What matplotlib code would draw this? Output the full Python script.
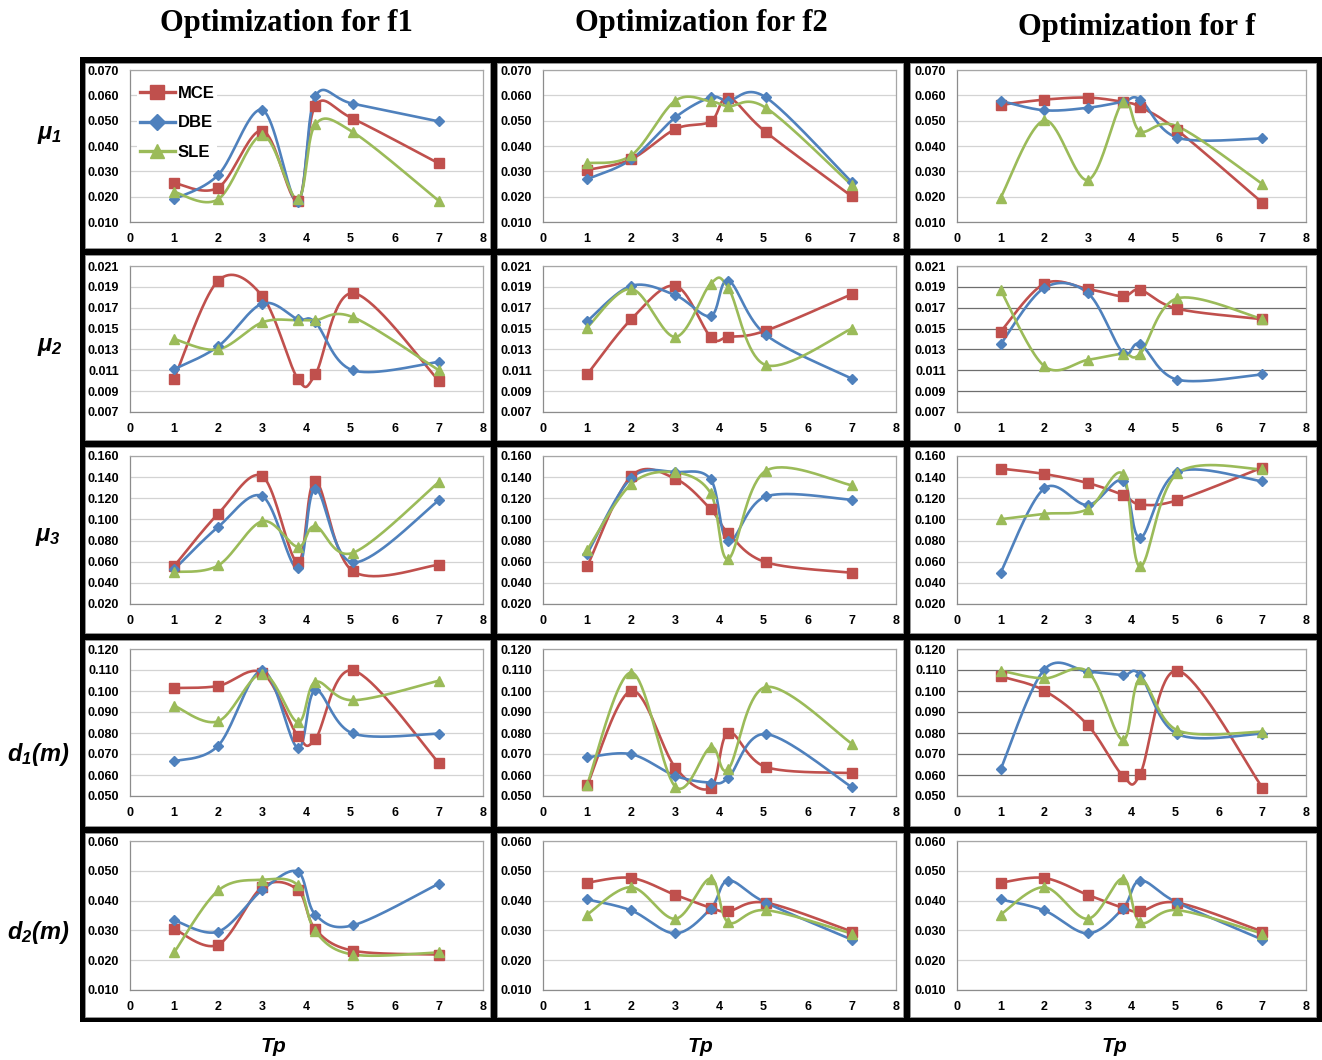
import numpy as np
import matplotlib
matplotlib.use("Agg")
import matplotlib.pyplot as plt
from matplotlib.patches import Rectangle
from matplotlib.lines import Line2D

plt.rcParams['font.family'] = ['Liberation Sans', 'DejaVu Sans']
plt.rcParams['mathtext.fontset'] = 'custom'
plt.rcParams['mathtext.rm'] = 'Liberation Sans:bold:italic'
plt.rcParams['mathtext.it'] = 'Liberation Sans:bold:italic'
plt.rcParams['mathtext.bf'] = 'Liberation Sans:bold:italic'

# ---------------- data ----------------
tp = [1, 2, 3, 3.8, 4.2, 5.05, 7]
series_names = ["MCE", "DBE", "SLE"]
col_titles = ["Optimization for f1", "Optimization for f2", "Optimization for f"]
row_labels = [r"$\mu_1$", r"$\mu_2$", r"$\mu_3$", r"$d_1(m)$", r"$d_2(m)$"]

# mu1
mu1_f1_mce = [0.0254, 0.0236, 0.0461, 0.0183, 0.0559, 0.0508, 0.0331]
mu1_f1_dbe = [0.0190, 0.0286, 0.0542, 0.0179, 0.0596, 0.0567, 0.0497]
mu1_f1_sle = [0.0219, 0.0190, 0.0442, 0.0190, 0.0485, 0.0455, 0.0183]
mu1_f2_mce = [0.0305, 0.0348, 0.0467, 0.0497, 0.0591, 0.0455, 0.0201]
mu1_f2_dbe = [0.0269, 0.0347, 0.0513, 0.0592, 0.0579, 0.0592, 0.0257]
mu1_f2_sle = [0.0332, 0.0363, 0.0579, 0.0576, 0.0557, 0.0551, 0.0245]
mu1_f_mce = [0.0562, 0.0583, 0.0591, 0.0574, 0.0554, 0.0462, 0.0176]
mu1_f_dbe = [0.0578, 0.0541, 0.0551, 0.0574, 0.0583, 0.0433, 0.0430]
mu1_f_sle = [0.0196, 0.0501, 0.0266, 0.0574, 0.0458, 0.0478, 0.0250]
# mu2
mu2_f1_mce = [0.0102, 0.0196, 0.0181, 0.0102, 0.0106, 0.0184, 0.0100]
mu2_f1_dbe = [0.0111, 0.0133, 0.0174, 0.0159, 0.0156, 0.0110, 0.0118]
mu2_f1_sle = [0.0140, 0.0130, 0.0156, 0.0158, 0.0158, 0.0161, 0.0110]
mu2_f2_mce = [0.0106, 0.0159, 0.0191, 0.0142, 0.0142, 0.0148, 0.0183]
mu2_f2_dbe = [0.0157, 0.0191, 0.0182, 0.0162, 0.0196, 0.0144, 0.0102]
mu2_f2_sle = [0.0151, 0.0188, 0.0142, 0.0193, 0.0189, 0.0115, 0.0150]
mu2_f_mce = [0.0147, 0.0193, 0.0188, 0.0181, 0.0187, 0.0169, 0.0159]
mu2_f_dbe = [0.0135, 0.0189, 0.0184, 0.0127, 0.0135, 0.0101, 0.0106]
mu2_f_sle = [0.0187, 0.0114, 0.0120, 0.0126, 0.0126, 0.0179, 0.0159]
# mu3
mu3_f1_mce = [0.0558, 0.1055, 0.1408, 0.0593, 0.1364, 0.0511, 0.0571]
mu3_f1_dbe = [0.0527, 0.0930, 0.1219, 0.0537, 0.1288, 0.0593, 0.1181]
mu3_f1_sle = [0.0502, 0.0565, 0.0983, 0.0741, 0.0936, 0.0684, 0.1354]
mu3_f2_mce = [0.0555, 0.1410, 0.1385, 0.1096, 0.0869, 0.0595, 0.0495]
mu3_f2_dbe = [0.0673, 0.1391, 0.1447, 0.1379, 0.0794, 0.1217, 0.1186]
mu3_f2_sle = [0.0710, 0.1335, 0.1444, 0.1248, 0.0626, 0.1460, 0.1323]
mu3_f_mce = [0.1481, 0.1430, 0.1344, 0.1232, 0.1142, 0.1181, 0.1491]
mu3_f_dbe = [0.0497, 0.1293, 0.1136, 0.1366, 0.0826, 0.1446, 0.1360]
mu3_f_sle = [0.1002, 0.1053, 0.1098, 0.1430, 0.0555, 0.1436, 0.1475]
# d1
d1_f1_mce = [0.1014, 0.1024, 0.1086, 0.0787, 0.0771, 0.1098, 0.0657]
d1_f1_dbe = [0.0665, 0.0740, 0.1098, 0.0729, 0.1003, 0.0798, 0.0797]
d1_f1_sle = [0.0930, 0.0856, 0.1083, 0.0852, 0.1043, 0.0956, 0.1049]
d1_f2_mce = [0.0551, 0.1001, 0.0635, 0.0539, 0.0802, 0.0638, 0.0609]
d1_f2_dbe = [0.0684, 0.0699, 0.0596, 0.0564, 0.0587, 0.0795, 0.0542]
d1_f2_sle = [0.0554, 0.1088, 0.0544, 0.0732, 0.0628, 0.1019, 0.0749]
d1_f_mce = [0.1070, 0.1002, 0.0837, 0.0597, 0.0605, 0.1097, 0.0540]
d1_f_dbe = [0.0627, 0.1102, 0.1092, 0.1076, 0.1076, 0.0795, 0.0797]
d1_f_sle = [0.1097, 0.1060, 0.1092, 0.0767, 0.1056, 0.0813, 0.0806]
# d2
d2_f1_mce = [0.0305, 0.0252, 0.0446, 0.0436, 0.0304, 0.0232, 0.0219]
d2_f1_dbe = [0.0334, 0.0296, 0.0436, 0.0497, 0.0353, 0.0317, 0.0457]
d2_f1_sle = [0.0226, 0.0434, 0.0470, 0.0452, 0.0297, 0.0219, 0.0226]
d2_f2_mce = [0.0460, 0.0476, 0.0419, 0.0376, 0.0364, 0.0393, 0.0296]
d2_f2_dbe = [0.0404, 0.0367, 0.0290, 0.0373, 0.0467, 0.0393, 0.0269]
d2_f2_sle = [0.0353, 0.0445, 0.0339, 0.0474, 0.0327, 0.0368, 0.0289]
d2_f_mce = [0.0460, 0.0476, 0.0419, 0.0376, 0.0364, 0.0393, 0.0296]
d2_f_dbe = [0.0404, 0.0367, 0.0290, 0.0373, 0.0467, 0.0393, 0.0269]
d2_f_sle = [0.0353, 0.0445, 0.0339, 0.0474, 0.0327, 0.0368, 0.0289]

# y-axis ticks per row
mu1_ticks = [0.010, 0.020, 0.030, 0.040, 0.050, 0.060, 0.070]
mu2_ticks = [0.007, 0.009, 0.011, 0.013, 0.015, 0.017, 0.019, 0.021]
mu3_ticks = [0.020, 0.040, 0.060, 0.080, 0.100, 0.120, 0.140, 0.160]
d1_ticks = [0.050, 0.060, 0.070, 0.080, 0.090, 0.100, 0.110, 0.120]
d2_ticks = [0.010, 0.020, 0.030, 0.040, 0.050, 0.060]
x_ticks = [0, 1, 2, 3, 4, 5, 6, 7, 8]

panels = [
    [(mu1_f1_mce, mu1_f1_dbe, mu1_f1_sle), (mu1_f2_mce, mu1_f2_dbe, mu1_f2_sle), (mu1_f_mce, mu1_f_dbe, mu1_f_sle)],
    [(mu2_f1_mce, mu2_f1_dbe, mu2_f1_sle), (mu2_f2_mce, mu2_f2_dbe, mu2_f2_sle), (mu2_f_mce, mu2_f_dbe, mu2_f_sle)],
    [(mu3_f1_mce, mu3_f1_dbe, mu3_f1_sle), (mu3_f2_mce, mu3_f2_dbe, mu3_f2_sle), (mu3_f_mce, mu3_f_dbe, mu3_f_sle)],
    [(d1_f1_mce, d1_f1_dbe, d1_f1_sle), (d1_f2_mce, d1_f2_dbe, d1_f2_sle), (d1_f_mce, d1_f_dbe, d1_f_sle)],
    [(d2_f1_mce, d2_f1_dbe, d2_f1_sle), (d2_f2_mce, d2_f2_dbe, d2_f2_sle), (d2_f_mce, d2_f_dbe, d2_f_sle)],
]
row_ticks = [mu1_ticks, mu2_ticks, mu3_ticks, d1_ticks, d2_ticks]

# ---------------- styling ----------------
colors = ["#C0504D", "#4F81BD", "#9BBB59"]
markers = ["s", "D", "^"]
msizes = [7, 5.5, 7.5]

W, H = 1322, 1060
fig = plt.figure(figsize=(W / 100, H / 100), dpi=100)


def frac(x0, y0, x1, y1):
    return [x0 / W, 1 - y1 / H, (x1 - x0) / W, (y1 - y0) / H]


# black frame with white cells
fig.patches.append(Rectangle((80 / W, 1 - 1022 / H), (W - 80) / W, (1022 - 57) / H,
                             transform=fig.transFigure, facecolor="black", edgecolor="none", zorder=0))
col_edges = [80, 493, 906, 1322]
row_edges = [57, 251, 443, 636, 829, 1022]
for r in range(5):
    for c in range(3):
        x0 = col_edges[c] + (5 if c == 0 else 4)
        x1 = col_edges[c + 1] - (6 if c == 2 else 3)
        y0 = row_edges[r] + (6 if r == 0 else 4)
        y1 = row_edges[r + 1] - (5 if r == 4 else 3)
        fig.patches.append(Rectangle((x0 / W, 1 - y1 / H), (x1 - x0) / W, (y1 - y0) / H,
                                     transform=fig.transFigure, facecolor="white",
                                     edgecolor="#9a9a9a", linewidth=0.6, zorder=1))

col_plot_x = [(130, 483), (543, 896), (957, 1306)]
row_plot_y = [(70, 222), (266, 412), (456, 604), (649, 796), (841, 990)]


def smooth_curve(ax, xs, ys, n=40):
    """Bezier smoothing in display space (Catmull-Rom style control points)."""
    pts = ax.transData.transform(np.column_stack([xs, ys]))
    m = len(pts)
    out = []
    t = np.linspace(0, 1, n)[:, None]
    for i in range(m - 1):
        p0 = pts[i - 1] if i > 0 else pts[i]
        p1, p2 = pts[i], pts[i + 1]
        p3 = pts[i + 2] if i + 2 < m else pts[i + 1]
        c1 = p1 + (p2 - p0) / 6.0
        c2 = p2 - (p3 - p1) / 6.0
        seg = (1 - t) ** 3 * p1 + 3 * (1 - t) ** 2 * t * c1 + 3 * (1 - t) * t ** 2 * c2 + t ** 3 * p2
        out.append(seg if i == 0 else seg[1:])
    curve = ax.transData.inverted().transform(np.vstack(out))
    return curve[:, 0], curve[:, 1]


dark_grid = {(1, 2), (3, 2)}
for r in range(5):
    ticks = row_ticks[r]
    for c in range(3):
        xa, xb = col_plot_x[c]
        ya, yb = row_plot_y[r]
        ax = fig.add_axes(frac(xa, ya, xb, yb), zorder=2)
        ax.set_xlim(0, 8)
        ax.set_ylim(ticks[0], ticks[-1])
        ax.set_xticks(x_ticks)
        ax.set_xticklabels([str(v) for v in x_ticks], fontsize=9, fontweight="bold")
        ax.set_yticks(ticks)
        ax.set_yticklabels([f"{v:.3f}" for v in ticks], fontsize=9, fontweight="bold")
        ax.tick_params(length=0, pad=8)
        gc = "#6e6e6e" if (r, c) in dark_grid else "#d3d3d3"
        ax.grid(axis="y", color=gc, linewidth=0.9)
        ax.set_axisbelow(True)
        for s in ax.spines.values():
            s.set_color("#a6a6a6")
            s.set_linewidth(0.9)
        ax.spines["left"].set_color("#8c8c8c")
        ax.spines["bottom"].set_color("#8c8c8c")

        for k, vals in enumerate(panels[r][c]):
            sx, sy = smooth_curve(ax, tp, vals)
            ax.plot(sx, sy, color=colors[k], lw=1.9, zorder=3, solid_capstyle="round")
            ax.plot(tp, vals, ls="none", marker=markers[k], ms=msizes[k],
                    color=colors[k], zorder=4)

        if r == 0 and c == 0:
            handles = [Line2D([], [], color=colors[k], lw=2.4, marker=markers[k],
                              ms=msizes[k] + 2.5) for k in range(3)]
            leg = ax.legend(handles, series_names, loc="upper left",
                            bbox_to_anchor=(0.02, 0.91), frameon=True,
                            facecolor="white", edgecolor="none", framealpha=1,
                            prop={"weight": "bold", "size": 12},
                            handlelength=2.15, handletextpad=0.15,
                            labelspacing=0.85, borderpad=0.15, borderaxespad=0)
            leg.set_zorder(5)

# column titles
title_pos = [(286, 23), (701, 23), (1137, 28)]
for (tx, ty), t in zip(title_pos, col_titles):
    fig.text(tx / W, 1 - ty / H, t, family="Liberation Serif", fontweight="bold",
             fontsize=22, ha="center", va="center")

# row labels
row_label_pos = [(50, 135), (50, 347), (48, 537), (38, 755), (38, 933)]
for (lx, ly), t in zip(row_label_pos, row_labels):
    fig.text(lx / W, 1 - ly / H, t, fontsize=17, ha="center", va="center")

# x-axis labels
for tx in [273, 700, 1114]:
    fig.text(tx / W, 1 - 1047 / H, r"$Tp$", fontsize=15, ha="center", va="center")

fig.savefig("out.png", dpi=100, facecolor="white")
